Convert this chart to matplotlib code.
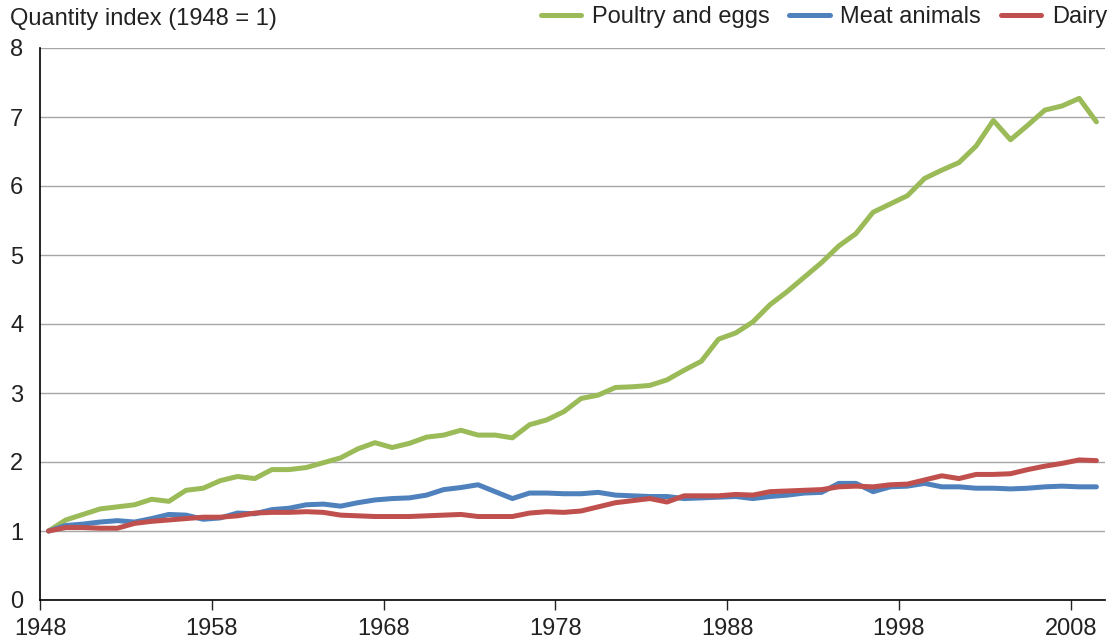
import numpy as np
import matplotlib.pyplot as plt

plt.rcParams['font.family'] = ['Liberation Sans', 'DejaVu Sans']

# Farm output quantity index, 1948 = 1
years = np.arange(1948, 2010)
poultry = [1.00, 1.16, 1.24, 1.32, 1.35, 1.38, 1.46, 1.43, 1.59, 1.62,
           1.73, 1.79, 1.76, 1.89, 1.89, 1.92, 1.99, 2.06, 2.19, 2.28,
           2.21, 2.27, 2.36, 2.39, 2.46, 2.39, 2.39, 2.35, 2.54, 2.61,
           2.73, 2.92, 2.97, 3.08, 3.09, 3.11, 3.19, 3.33, 3.46, 3.78,
           3.87, 4.03, 4.28, 4.47, 4.68, 4.89, 5.13, 5.31, 5.62, 5.74,
           5.86, 6.11, 6.23, 6.34, 6.58, 6.95, 6.67, 6.88, 7.10, 7.16,
           7.27, 6.93]
meat = [1.00, 1.08, 1.10, 1.13, 1.15, 1.13, 1.18, 1.24, 1.23, 1.17,
        1.19, 1.26, 1.25, 1.31, 1.33, 1.38, 1.39, 1.36, 1.41, 1.45,
        1.47, 1.48, 1.52, 1.60, 1.63, 1.67, 1.57, 1.47, 1.55, 1.55,
        1.54, 1.54, 1.56, 1.52, 1.51, 1.50, 1.50, 1.47, 1.48, 1.49,
        1.50, 1.47, 1.50, 1.52, 1.55, 1.56, 1.69, 1.69, 1.57, 1.64,
        1.65, 1.69, 1.64, 1.64, 1.62, 1.62, 1.61, 1.62, 1.64, 1.65,
        1.64, 1.64]
dairy = [1.00, 1.05, 1.05, 1.04, 1.04, 1.11, 1.14, 1.16, 1.18, 1.20,
         1.20, 1.22, 1.26, 1.27, 1.27, 1.28, 1.27, 1.23, 1.22, 1.21,
         1.21, 1.21, 1.22, 1.23, 1.24, 1.21, 1.21, 1.21, 1.26, 1.28,
         1.27, 1.29, 1.35, 1.41, 1.44, 1.47, 1.42, 1.51, 1.51, 1.51,
         1.53, 1.52, 1.57, 1.58, 1.59, 1.60, 1.64, 1.65, 1.64, 1.67,
         1.68, 1.74, 1.80, 1.76, 1.82, 1.82, 1.83, 1.89, 1.94, 1.98,
         2.03, 2.02]
tick_years = [1948, 1958, 1968, 1978, 1988, 1998, 2008]

fig = plt.figure(figsize=(11.19, 6.39), dpi=100)
ax = fig.add_axes([40 / 1119, 39 / 639, 1065 / 1119, 552 / 639])

# points sit in the middle of each year's slot, ticks on slot edges
x = years - 1948 + 0.5
ax.plot(x, poultry, color='#9BBB59', lw=3.6, label='Poultry and eggs',
        solid_joinstyle='round', solid_capstyle='round')
ax.plot(x, meat, color='#4F81BD', lw=3.6, label='Meat animals',
        solid_joinstyle='round', solid_capstyle='round')
ax.plot(x, dairy, color='#C0504D', lw=3.6, label='Dairy',
        solid_joinstyle='round', solid_capstyle='round')

ax.set_xlim(0, len(years))
ax.set_ylim(0, 8)
ax.set_xticks([t - 1948 for t in tick_years])
ax.set_xticklabels([str(t) for t in tick_years])
ax.set_yticks(range(9))

ax.yaxis.grid(True, color='#a6a6a6', lw=1)
ax.set_axisbelow(True)
for s in ['top', 'right']:
    ax.spines[s].set_visible(False)
ax.spines['left'].set_linewidth(1.2)
ax.spines['bottom'].set_linewidth(1.2)
ax.tick_params(axis='x', length=7, width=1, pad=6, labelsize=17, colors='#222222')
ax.tick_params(axis='y', length=0, pad=12, labelsize=17, colors='#222222')

fig.text(10 / 1119, 1 - 25 / 639, 'Quantity index (1948 = 1)',
         fontsize=17, va='baseline', color='#222222')
fig.legend(loc='upper right', bbox_to_anchor=(1107 / 1119, 1 - 6 / 639),
           ncol=3, frameon=False, fontsize=17, handlelength=1.7,
           handletextpad=0.45, columnspacing=0.85, borderaxespad=0,
           borderpad=0, labelcolor='#222222')

fig.savefig('out.png', dpi=100)
